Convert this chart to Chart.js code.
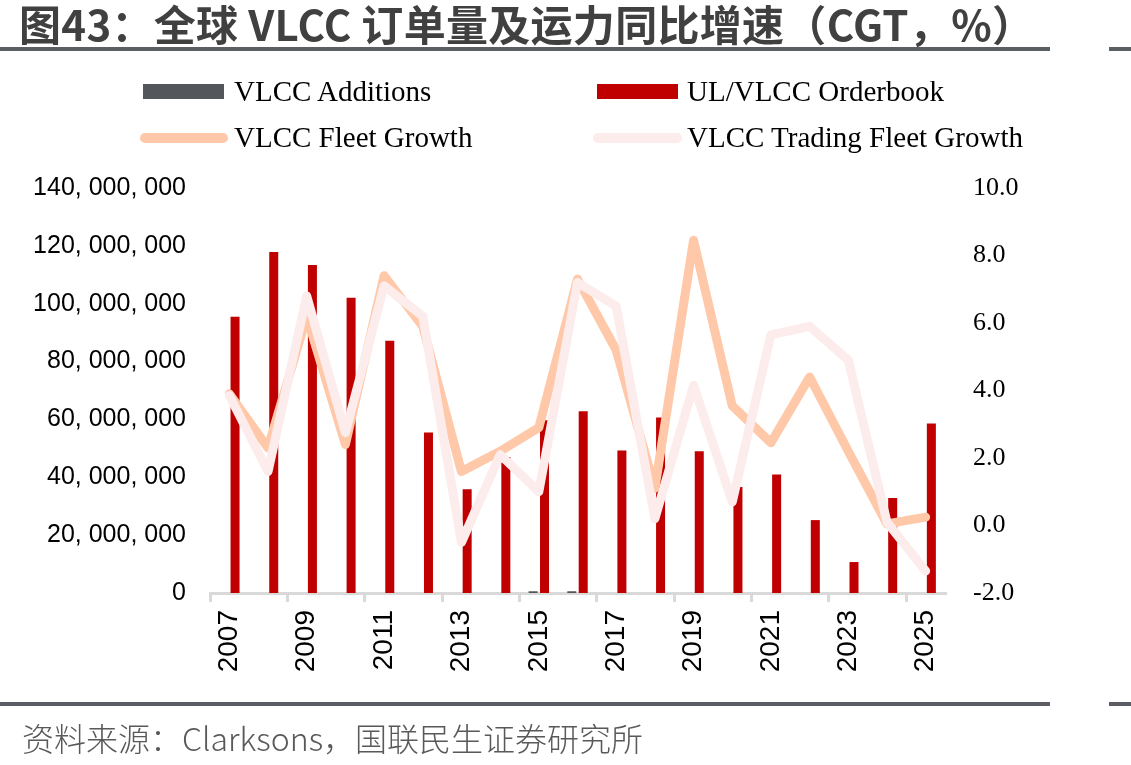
<!DOCTYPE html>
<html>
<head>
<meta charset="utf-8">
<script src="https://cdn.jsdelivr.net/npm/chart.js@4.4.1/dist/chart.umd.min.js"></script>
<style>
  html, body { margin: 0; padding: 0; background: #fff; }
  #wrap { position: relative; width: 1131px; height: 765px; overflow: hidden; }
  #c { position: absolute; left: 0; top: 0; }
  .abs { position: absolute; white-space: nowrap; }
  #title { left: 19px; top: -1px; height: 48px; line-height: 48px; font-family: "Noto Sans CJK SC"; font-weight: 700; font-size: 42px; letter-spacing: 0.3px; color: #404040; }
  #source { left: 22px; top: 715px; height: 44px; line-height: 44px; font-family: "Noto Sans CJK SC"; font-weight: 300; font-size: 32px; color: #595959; }
  .rule { position: absolute; height: 4px; background: #5b5f63; }
  .leg { position: absolute; font-family: "Liberation Serif", "Times New Roman", serif; font-size: 29px; color: #000; line-height: 34px; height: 34px; white-space: nowrap; }
  .box { position: absolute; height: 15px; width: 81px; }
  .ln { position: absolute; height: 10px; border-radius: 5px; }
</style>
</head>
<body>
<div id="wrap">
  <canvas id="c" width="1131" height="765"></canvas>
  <div id="title" class="abs">图43：全球 VLCC 订单量及运力同比增速（CGT，%）</div>
  <div class="rule" style="left:0; top:47px; width:1050px;"></div>
  <div class="rule" style="left:1109px; top:47px; width:22px;"></div>
  <div class="rule" style="left:0; top:702px; width:1050px;"></div>
  <div class="rule" style="left:1109px; top:702px; width:22px;"></div>
  <div id="source" class="abs">资料来源：Clarksons，国联民生证券研究所</div>

  <div class="box" style="left:143px; top:84px; background:#53565a;"></div>
  <div class="leg" style="left:234px; top:74px;">VLCC Additions</div>
  <div class="box" style="left:597px; top:84px; background:#c00000;"></div>
  <div class="leg" style="left:687px; top:74px;">UL/VLCC Orderbook</div>
  <div class="ln" style="left:140px; top:133px; width:88px; background:#ffc8a8;"></div>
  <div class="leg" style="left:234px; top:120px;">VLCC Fleet Growth</div>
  <div class="ln" style="left:593px; top:133px; width:89px; background:#fdecec;"></div>
  <div class="leg" style="left:687px; top:120px;">VLCC Trading Fleet Growth</div>
</div>
<script>
// ---- data ----
const years = ["2007","2008","2009","2010","2011","2012","2013","2014","2015","2016","2017","2018","2019","2020","2021","2022","2023","2024","2025"];
const vlccAdditions = [0,0,0,0,0,0,0,0,600000,600000,0,0,0,0,0,0,0,0,0];
const ulVlccOrderbook = [95500000,117900000,113400000,102100000,87200000,55500000,35900000,47000000,59700000,62800000,49300000,60700000,49000000,36600000,41000000,25200000,10700000,32800000,58600000];
const vlccFleetGrowth = [3.9,2.3,6.2,2.4,7.4,5.9,1.6,2.2,2.9,7.3,5.2,1.1,8.45,3.55,2.45,4.4,2.2,0.05,0.25];
const vlccTradingFleetGrowth = [3.85,1.6,6.8,2.75,7.1,6.2,-0.5,2.1,1.0,7.2,6.5,0.2,4.15,0.7,5.65,5.9,4.9,0.1,-1.35];
const leftTicks = [0,20000000,40000000,60000000,80000000,100000000,120000000,140000000];
const rightTicks = [-2,0,2,4,6,8,10];

const CHART_LEFT = 210, CHART_RIGHT = 945, CHART_TOP = 188, CHART_BOTTOM = 593;

new Chart(document.getElementById('c'), {
  type: 'bar',
  data: {
    labels: years,
    datasets: [
      { type: 'line', label: 'VLCC Trading Fleet Growth', data: vlccTradingFleetGrowth, yAxisID: 'y1',
        borderColor: '#fdecec', borderWidth: 9, pointRadius: 0, tension: 0, borderCapStyle: 'round', borderJoinStyle: 'round', order: 0 },
      { type: 'line', label: 'VLCC Fleet Growth', data: vlccFleetGrowth, yAxisID: 'y1',
        borderColor: '#ffc8a8', borderWidth: 9, pointRadius: 0, tension: 0, borderCapStyle: 'round', borderJoinStyle: 'round', order: 1 },
      { label: 'VLCC Additions', data: vlccAdditions, yAxisID: 'y', backgroundColor: '#53565a',
        categoryPercentage: 0.59, barPercentage: 0.79, order: 2 },
      { label: 'UL/VLCC Orderbook', data: ulVlccOrderbook, yAxisID: 'y', backgroundColor: '#c00000',
        categoryPercentage: 0.59, barPercentage: 0.79, order: 3 }
    ]
  },
  options: {
    responsive: false,
    animation: false,
    layout: { padding: { left: 0, right: 0, top: CHART_TOP, bottom: 0 } },
    plugins: { legend: { display: false }, tooltip: { enabled: false }, title: { display: false } },
    scales: {
      x: {
        offset: true,
        afterFit: (s) => { s.height = 765 - CHART_BOTTOM; },
        border: { display: true, color: '#d9d9d9', width: 3 },
        grid: {
          offset: true, drawOnChartArea: false, drawTicks: true, tickLength: 9, lineWidth: 3,
          color: (ctx) => (ctx.index % 2 === 0 ? '#d9d9d9' : 'rgba(0,0,0,0)')
        },
        ticks: {
          autoSkip: false, minRotation: 90, maxRotation: 90, padding: 8,
          color: '#000', font: { family: 'Liberation Sans', size: 28 },
          callback: function(v, i) { return i % 2 === 0 ? this.getLabelForValue(v) : ''; }
        }
      },
      y: {
        position: 'left', min: 0, max: 140000000,
        afterFit: (s) => { s.width = CHART_LEFT; },
        afterBuildTicks: (s) => { s.ticks = leftTicks.map(v => ({ value: v })); },
        border: { display: false },
        grid: { display: false, drawTicks: false },
        ticks: {
          padding: 24, color: '#000', font: { family: 'Liberation Sans', size: 25 },
          callback: (v) => Number(v).toLocaleString('en-US').replace(/,/g, ', ')
        }
      },
      y1: {
        position: 'right', min: -2, max: 10,
        afterFit: (s) => { s.width = 1131 - CHART_RIGHT; },
        afterBuildTicks: (s) => { s.ticks = rightTicks.map(v => ({ value: v })); },
        border: { display: false },
        grid: { display: false, drawTicks: false },
        ticks: {
          padding: 28, color: '#000', font: { family: 'Liberation Serif', size: 26 },
          callback: (v) => Number(v).toFixed(1)
        }
      }
    }
  }
});
</script>
</body>
</html>
